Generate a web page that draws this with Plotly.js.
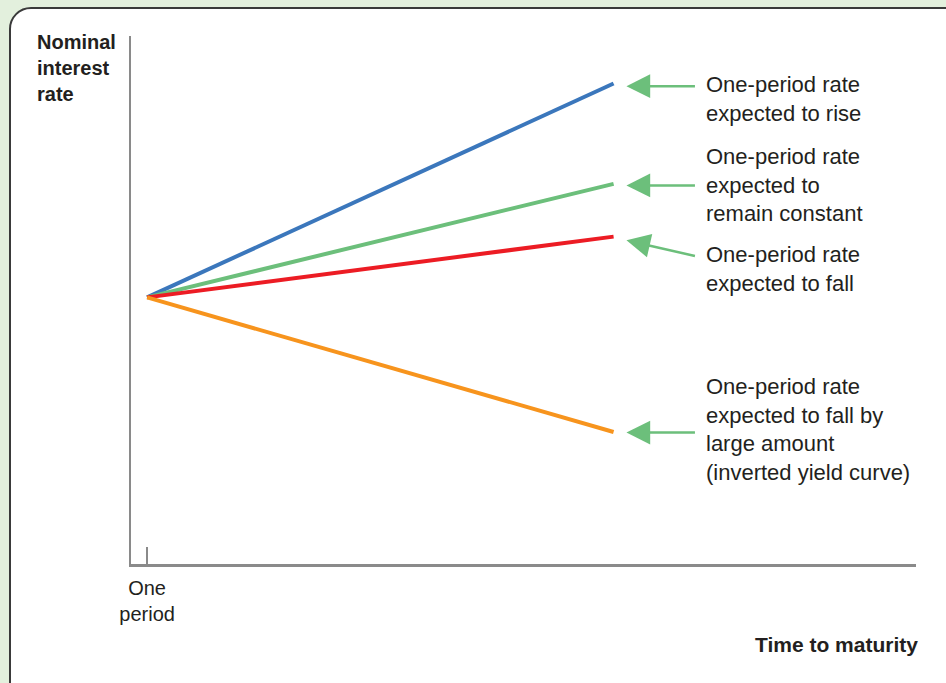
<!DOCTYPE html>
<html>
<head>
<meta charset="utf-8">
<script src="https://cdn.plot.ly/plotly-3.0.1.min.js"></script>
<style>
  html, body { margin: 0; padding: 0; width: 946px; height: 683px; overflow: hidden; background: #e3f0dd; }
  #panel { position: absolute; left: 9px; top: 7px; width: 980px; height: 720px; background: #ffffff;
           border: 2px solid #3a3a3a; border-radius: 22px; box-sizing: border-box; }
  #chart { position: absolute; left: 0; top: 0; width: 946px; height: 683px; }
</style>
</head>
<body>
<div id="panel"></div>
<div id="chart"></div>
<script>
// ---- data ----
const startTime = 1;          // "One period"
const endTime = 30;           // right end of every curve
const startRate = 50.5;       // common starting rate
const seriesNames = ["rise", "constant", "fall", "fallLarge"];
const endRates = [91, 72, 62, 25];
const seriesColors = ["#3b77bc", "#6cbf7b", "#ec1c24", "#f7941d"];
const labelTexts = [
  "One-period rate<br>expected to rise",
  "One-period rate<br>expected to<br>remain constant",
  "One-period rate<br>expected to fall",
  "One-period rate<br>expected to fall by<br>large amount<br>(inverted yield curve)"
];
const arrowTipRates = [90.5, 71.7, 61.3, 24.9];
const labelCenterRates = [88.0, 71.7, 55.9, 25.5];
const arrowTilt = [0, 0, 16, 0];
const tickVals = [1];
const tickTexts = ["One<br>period"];
const yTitle = "Nominal<br>interest<br>rate";
const xTitle = "Time to maturity";

const textColor = "#231f20";
const axisColor = "#8a8a8a";
const arrowColor = "#6cbf7b";
const fontFam = "'Liberation Sans', Arial, Helvetica, sans-serif";

const traces = seriesNames.map((n, i) => ({
  type: "scatter",
  mode: "lines",
  name: n,
  x: [startTime, endTime],
  y: [startRate, endRates[i]],
  line: { color: seriesColors[i], width: 4 },
  hoverinfo: "skip"
}));

const annotations = [];
// arrows
arrowTipRates.forEach((r, i) => {
  annotations.push({
    xref: "x", yref: "y", x: 30.8, y: r,
    text: "", showarrow: true,
    ax: 70, ay: arrowTilt[i], axref: "pixel", ayref: "pixel",
    arrowhead: 2, arrowsize: 1.9, arrowwidth: 2.5, arrowcolor: arrowColor,
    standoff: 0, startstandoff: 0
  });
});
// labels
labelTexts.forEach((t, i) => {
  annotations.push({
    xref: "x", yref: "y", x: 35.6, y: labelCenterRates[i],
    xanchor: "left", yanchor: "middle", align: "left",
    text: t, showarrow: false,
    font: { family: fontFam, size: 22, color: textColor }
  });
});
// axis titles
annotations.push({
  xref: "paper", yref: "paper", x: -0.122, y: 1.014,
  xanchor: "left", yanchor: "top", align: "left",
  text: "<b>" + yTitle + "</b>", showarrow: false,
  font: { family: fontFam, size: 20, color: textColor }
});
annotations.push({
  xref: "paper", yref: "paper", x: 1.0, y: -0.152, xshift: 4,
  xanchor: "right", yanchor: "middle", align: "right",
  text: "<b>" + xTitle + "</b>", showarrow: false,
  font: { family: fontFam, size: 21, color: textColor }
});

const layout = {
  width: 946, height: 683,
  margin: { l: 131, r: 30, t: 36, b: 119 },
  paper_bgcolor: "rgba(0,0,0,0)",
  plot_bgcolor: "rgba(0,0,0,0)",
  showlegend: false,
  hovermode: false,
  xaxis: {
    range: [0, 48.8], showgrid: false, zeroline: false,
    showline: true, linecolor: axisColor, linewidth: 2.5,
    tickmode: "array", tickvals: tickVals, ticktext: tickTexts,
    ticks: "inside", ticklen: 17, tickwidth: 2, tickcolor: axisColor,
    ticklabelstandoff: 4,
    tickfont: { family: fontFam, size: 20, color: textColor }
  },
  yaxis: {
    range: [0, 100], showgrid: false, zeroline: false,
    showline: true, linecolor: axisColor, linewidth: 2.5,
    showticklabels: false, ticks: ""
  },
  annotations: annotations
};

Plotly.newPlot("chart", traces, layout, { staticPlot: true });
</script>
</body>
</html>
